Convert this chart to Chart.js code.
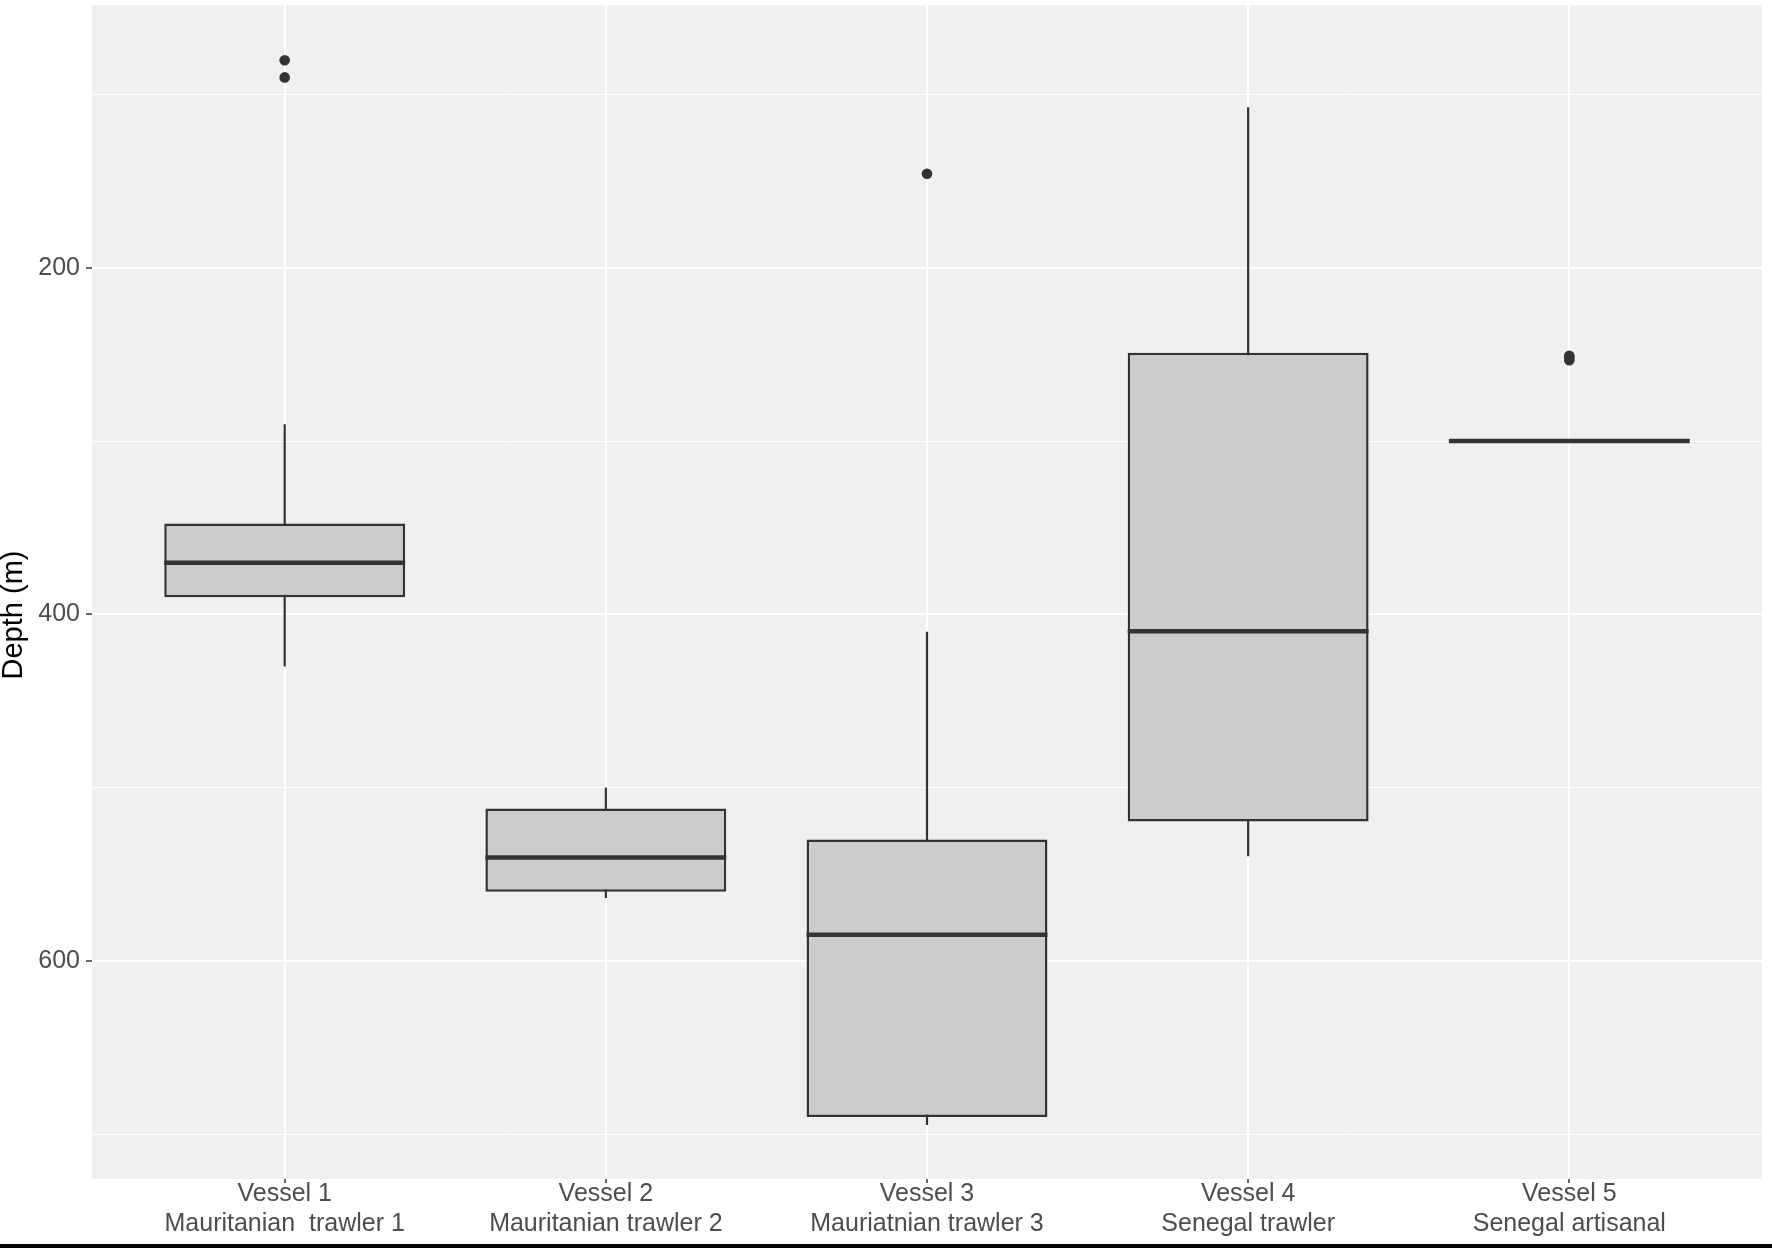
<!DOCTYPE html>
<html>
<head>
<meta charset="utf-8">
<script src="https://cdn.jsdelivr.net/npm/chart.js@4.4.1/dist/chart.umd.min.js"></script>
<style>
    html, body { margin: 0; padding: 0; background: #ffffff; overflow: hidden; }
    #wrap { width: 1772px; height: 1248px; position: relative; }
</style>
</head>
<body>
<div id="wrap"><canvas id="graph"></canvas></div>
<script>
// vessels (x labels, two lines each)
var vessels = [
    ['Vessel 1', 'Mauritanian  trawler 1'],
    ['Vessel 2', 'Mauritanian trawler 2'],
    ['Vessel 3', 'Mauriatnian trawler 3'],
    ['Vessel 4', 'Senegal trawler'],
    ['Vessel 5', 'Senegal artisanal']
];

// box plot stats (depth in m)
var whisker_low  = [290.3, 500.0, 410.0, 107.4, 300.0];
var q1           = [347.6, 512.0, 530.0, 249.0, 300.0];
var medians      = [370.3, 540.3, 585.0, 409.8, 300.0];
var q3           = [390.2, 560.1, 690.1, 519.5, 300.0];
var whisker_high = [430.1, 563.7, 694.7, 539.6, 300.0];
var outliers     = [[80.2, 90.1], [], [145.7], [], [250.8, 251.9, 253.3]];

// y ticks: labelled majors and unlabelled minors
var y_major = [200, 400, 600];
var y_minor = [100, 300, 500, 700];
var y_min = 48.5, y_max = 725.9;

window.onload = ()=>{
    var box_data = vessels.map((v, i)=>({x: i + 1, y: [q1[i], q3[i]]}));
    var outlier_data = [];
    outliers.forEach((list, i)=>{
        for (const val of list) {
            outlier_data.push({x: i + 1, y: val});
        }
    });

    // panel background + bottom rule + y title
    var panel_plugin = {
        id: 'panel',
        beforeDraw(chart) {
            let ctx = chart.ctx, a = chart.chartArea;
            ctx.save();
            ctx.fillStyle = '#f0f0f0';
            ctx.fillRect(a.left, a.top, a.right - a.left, a.bottom - a.top);
            ctx.restore();
        },
        afterDraw(chart) {
            let ctx = chart.ctx;
            ctx.save();
            ctx.fillStyle = '#000000';
            ctx.fillRect(0, 1244, chart.width, 4);
            ctx.translate(22, 615);
            ctx.rotate(-Math.PI / 2);
            ctx.font = '29px "Liberation Sans", Arial, sans-serif';
            ctx.fillStyle = '#000000';
            ctx.textAlign = 'center';
            ctx.textBaseline = 'alphabetic';
            ctx.fillText('Depth (m)', 0, 0);
            ctx.restore();
        }
    };

    // whiskers behind boxes, medians on top
    var box_plugin = {
        id: 'boxparts',
        beforeDatasetsDraw(chart) {
            let ctx = chart.ctx, xs = chart.scales.x, ys = chart.scales.y;
            ctx.save();
            ctx.strokeStyle = '#333333';
            ctx.lineWidth = 2.2;
            vessels.forEach((v, i)=>{
                let px = xs.getPixelForValue(i + 1);
                ctx.beginPath();
                ctx.moveTo(px, ys.getPixelForValue(whisker_low[i]));
                ctx.lineTo(px, ys.getPixelForValue(whisker_high[i]));
                ctx.stroke();
            });
            ctx.restore();
        },
        afterDatasetsDraw(chart) {
            let ctx = chart.ctx, ys = chart.scales.y;
            let meta = chart.getDatasetMeta(0);
            ctx.save();
            ctx.strokeStyle = '#333333';
            ctx.lineWidth = 4.5;
            ctx.lineCap = 'butt';
            meta.data.forEach((bar, i)=>{
                let half = bar.width / 2;
                let py = ys.getPixelForValue(medians[i]);
                ctx.beginPath();
                ctx.moveTo(bar.x - half, py);
                ctx.lineTo(bar.x + half, py);
                ctx.stroke();
            });
            ctx.restore();
        }
    };

    var chart = new Chart('graph', {
        type: 'bar',
        data: {
            datasets: [
                {
                    type: 'bar',
                    data: box_data,
                    backgroundColor: '#cccccc',
                    borderColor: '#333333',
                    borderWidth: 2.5,
                    borderSkipped: false,
                    barPercentage: 0.75,
                    categoryPercentage: 1.0,
                    order: 2
                },
                {
                    type: 'scatter',
                    data: outlier_data,
                    backgroundColor: '#333333',
                    borderColor: '#333333',
                    pointRadius: 5.3,
                    borderWidth: 0,
                    order: 1
                }
            ]
        },
        options: {
            responsive: true,
            maintainAspectRatio: false,
            devicePixelRatio: 1,
            animation: false,
            layout: { padding: { left: 0, right: 10, top: 1, bottom: 0 } },
            plugins: {
                legend: { display: false },
                tooltip: { enabled: false }
            },
            scales: {
                x: {
                    type: 'linear',
                    offset: false,
                    min: 0.4,
                    max: 5.6,
                    afterBuildTicks: (scale)=>{
                        scale.ticks = vessels.map((v, i)=>({value: i + 1}));
                    },
                    afterFit: (scale)=>{
                        scale.height = 69;
                        scale.paddingLeft = 0;
                        scale.paddingRight = 0;
                    },
                    ticks: {
                        autoSkip: false,
                        maxRotation: 0,
                        padding: -4,
                        color: '#4d4d4d',
                        font: { family: '"Liberation Sans", Arial, sans-serif', size: 25, lineHeight: 1.2 },
                        callback: (val)=>vessels[Math.round(val) - 1]
                    },
                    grid: {
                        offset: false,
                        color: '#ffffff',
                        lineWidth: 2,
                        tickColor: '#333333',
                        tickLength: 4,
                        tickWidth: 1.5
                    },
                    border: { display: false }
                },
                y: {
                    type: 'linear',
                    reverse: true,
                    min: y_min,
                    max: y_max,
                    afterBuildTicks: (scale)=>{
                        scale.ticks = y_major.concat(y_minor).sort((a, b)=>a - b).map(v=>({value: v}));
                    },
                    afterFit: (scale)=>{
                        scale.width = 92;
                        scale.paddingTop = 0;
                        scale.paddingBottom = 0;
                    },
                    ticks: {
                        padding: 6,
                        color: '#4d4d4d',
                        font: { family: '"Liberation Sans", Arial, sans-serif', size: 25 },
                        callback: (val)=>y_major.includes(val) ? String(val) : ''
                    },
                    grid: {
                        color: '#ffffff',
                        lineWidth: (ctx)=>y_major.includes(ctx.tick.value) ? 2 : 1,
                        tickColor: (ctx)=>y_major.includes(ctx.tick.value) ? '#333333' : 'rgba(0,0,0,0)',
                        tickLength: 6,
                        tickWidth: 1.5
                    },
                    border: { display: false }
                }
            }
        },
        plugins: [panel_plugin, box_plugin]
    });
};
</script>
</body>
</html>
